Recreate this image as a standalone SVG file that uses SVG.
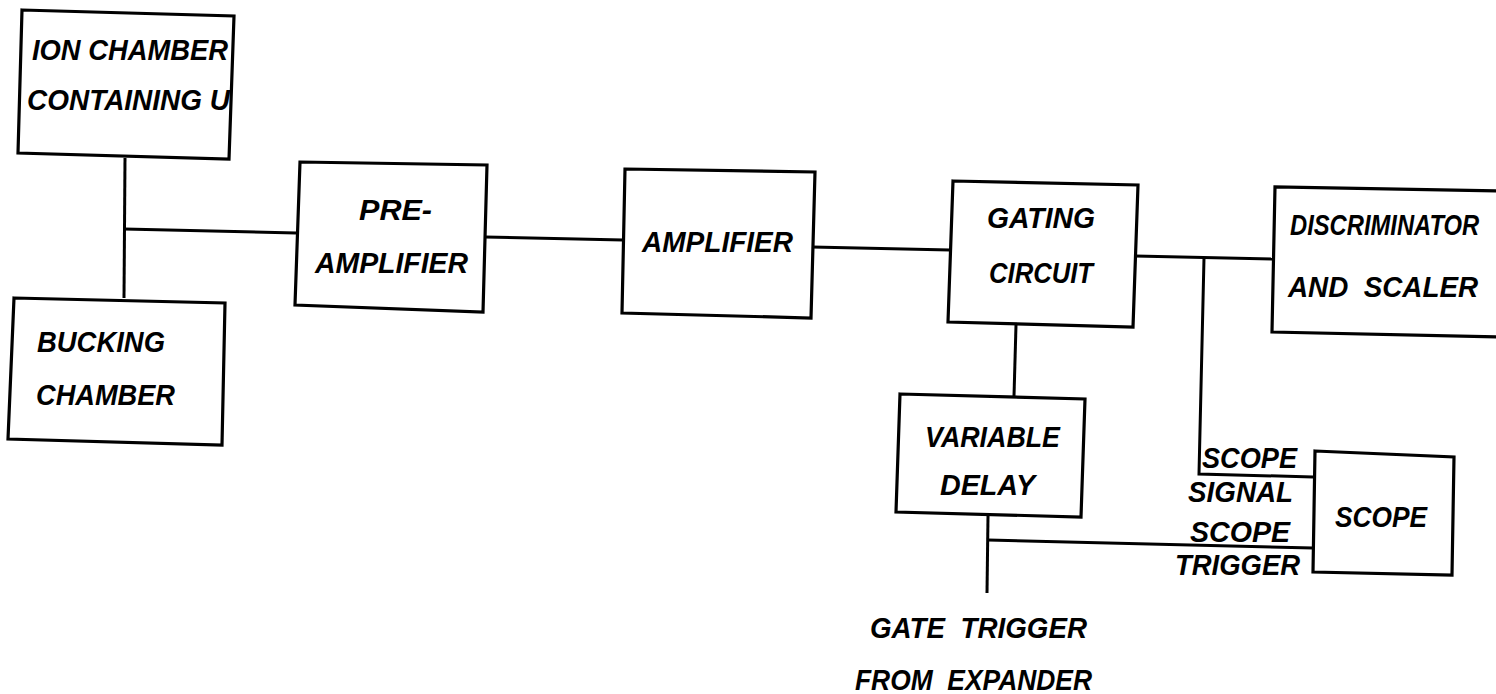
<svg xmlns="http://www.w3.org/2000/svg" width="1496" height="694" viewBox="0 0 1496 694">
<style>
.box{fill:none;stroke:#000;stroke-width:3.2;stroke-linejoin:miter}
.ln{fill:none;stroke:#000;stroke-width:3}
text{font-family:"Liberation Sans",Arial,sans-serif;font-weight:bold;font-style:italic;font-size:29px;fill:#000}
</style>
<rect width="1496" height="694" fill="#fff"/>
<g id="connectors">
<polyline class="ln" points="125,158 124,298"/>
<polyline class="ln" points="124,229 296,233"/>
<polyline class="ln" points="485,237 623,240"/>
<polyline class="ln" points="812,247 950,250"/>
<polyline class="ln" points="1135,256 1273,259"/>
<polyline class="ln" points="1204,258 1199,474 1313,477"/>
<polyline class="ln" points="1016,325 1014,396"/>
<polyline class="ln" points="988,516 987,593"/>
<polyline class="ln" points="988,540 1313,548"/>
</g>
<g id="ion-chamber">
<polygon class="box" points="22,10 234,16 229,159 18,153"/>
<text x="32" y="60" textLength="196" lengthAdjust="spacingAndGlyphs">ION CHAMBER</text>
<text x="27" y="110" textLength="203" lengthAdjust="spacingAndGlyphs">CONTAINING U</text>
</g>
<g id="bucking-chamber">
<polygon class="box" points="14,298 225,303 222,445 8,439"/>
<text x="37" y="352" textLength="128" lengthAdjust="spacingAndGlyphs">BUCKING</text>
<text x="36" y="405" textLength="139" lengthAdjust="spacingAndGlyphs">CHAMBER</text>
</g>
<g id="pre-amplifier">
<polygon class="box" points="300,162 487,165 483,312 295,305"/>
<text x="359" y="220" textLength="73" lengthAdjust="spacingAndGlyphs">PRE-</text>
<text x="315" y="273" textLength="153" lengthAdjust="spacingAndGlyphs">AMPLIFIER</text>
</g>
<g id="amplifier">
<polygon class="box" points="625,169 815,172 811,318 622,313"/>
<text x="642" y="252" textLength="151" lengthAdjust="spacingAndGlyphs">AMPLIFIER</text>
</g>
<g id="gating-circuit">
<polygon class="box" points="953,181 1138,185 1133,327 948,322"/>
<text x="987" y="228" textLength="108" lengthAdjust="spacingAndGlyphs">GATING</text>
<text x="989" y="283" textLength="104" lengthAdjust="spacingAndGlyphs">CIRCUIT</text>
</g>
<g id="discriminator">
<polyline class="box" points="1498,191 1275,187 1272,332 1498,337"/>
<text transform="translate(1290,235) scale(0.82,1)">DISCRIMINATOR</text>
<text x="1288" y="297" textLength="190" lengthAdjust="spacingAndGlyphs" xml:space="preserve">AND  SCALER</text>
</g>
<g id="variable-delay">
<polygon class="box" points="900,394 1085,399 1081,517 896,512"/>
<text x="925" y="447" textLength="135" lengthAdjust="spacingAndGlyphs">VARIABLE</text>
<text x="940" y="495" textLength="95" lengthAdjust="spacingAndGlyphs">DELAY</text>
</g>
<g id="scope">
<polygon class="box" points="1315,451 1454,457 1452,575 1313,572"/>
<text x="1335" y="527" textLength="92" lengthAdjust="spacingAndGlyphs">SCOPE</text>
</g>
<g id="labels">
<text x="1202" y="468" textLength="95" lengthAdjust="spacingAndGlyphs">SCOPE</text>
<text x="1188" y="502" textLength="105" lengthAdjust="spacingAndGlyphs">SIGNAL</text>
<text x="1190" y="542" textLength="100" lengthAdjust="spacingAndGlyphs">SCOPE</text>
<text x="1175" y="575" textLength="125" lengthAdjust="spacingAndGlyphs">TRIGGER</text>
<text x="870" y="638" textLength="217" lengthAdjust="spacingAndGlyphs" xml:space="preserve">GATE  TRIGGER</text>
<text x="855" y="690" textLength="237" lengthAdjust="spacingAndGlyphs" xml:space="preserve">FROM  EXPANDER</text>
</g>
</svg>
